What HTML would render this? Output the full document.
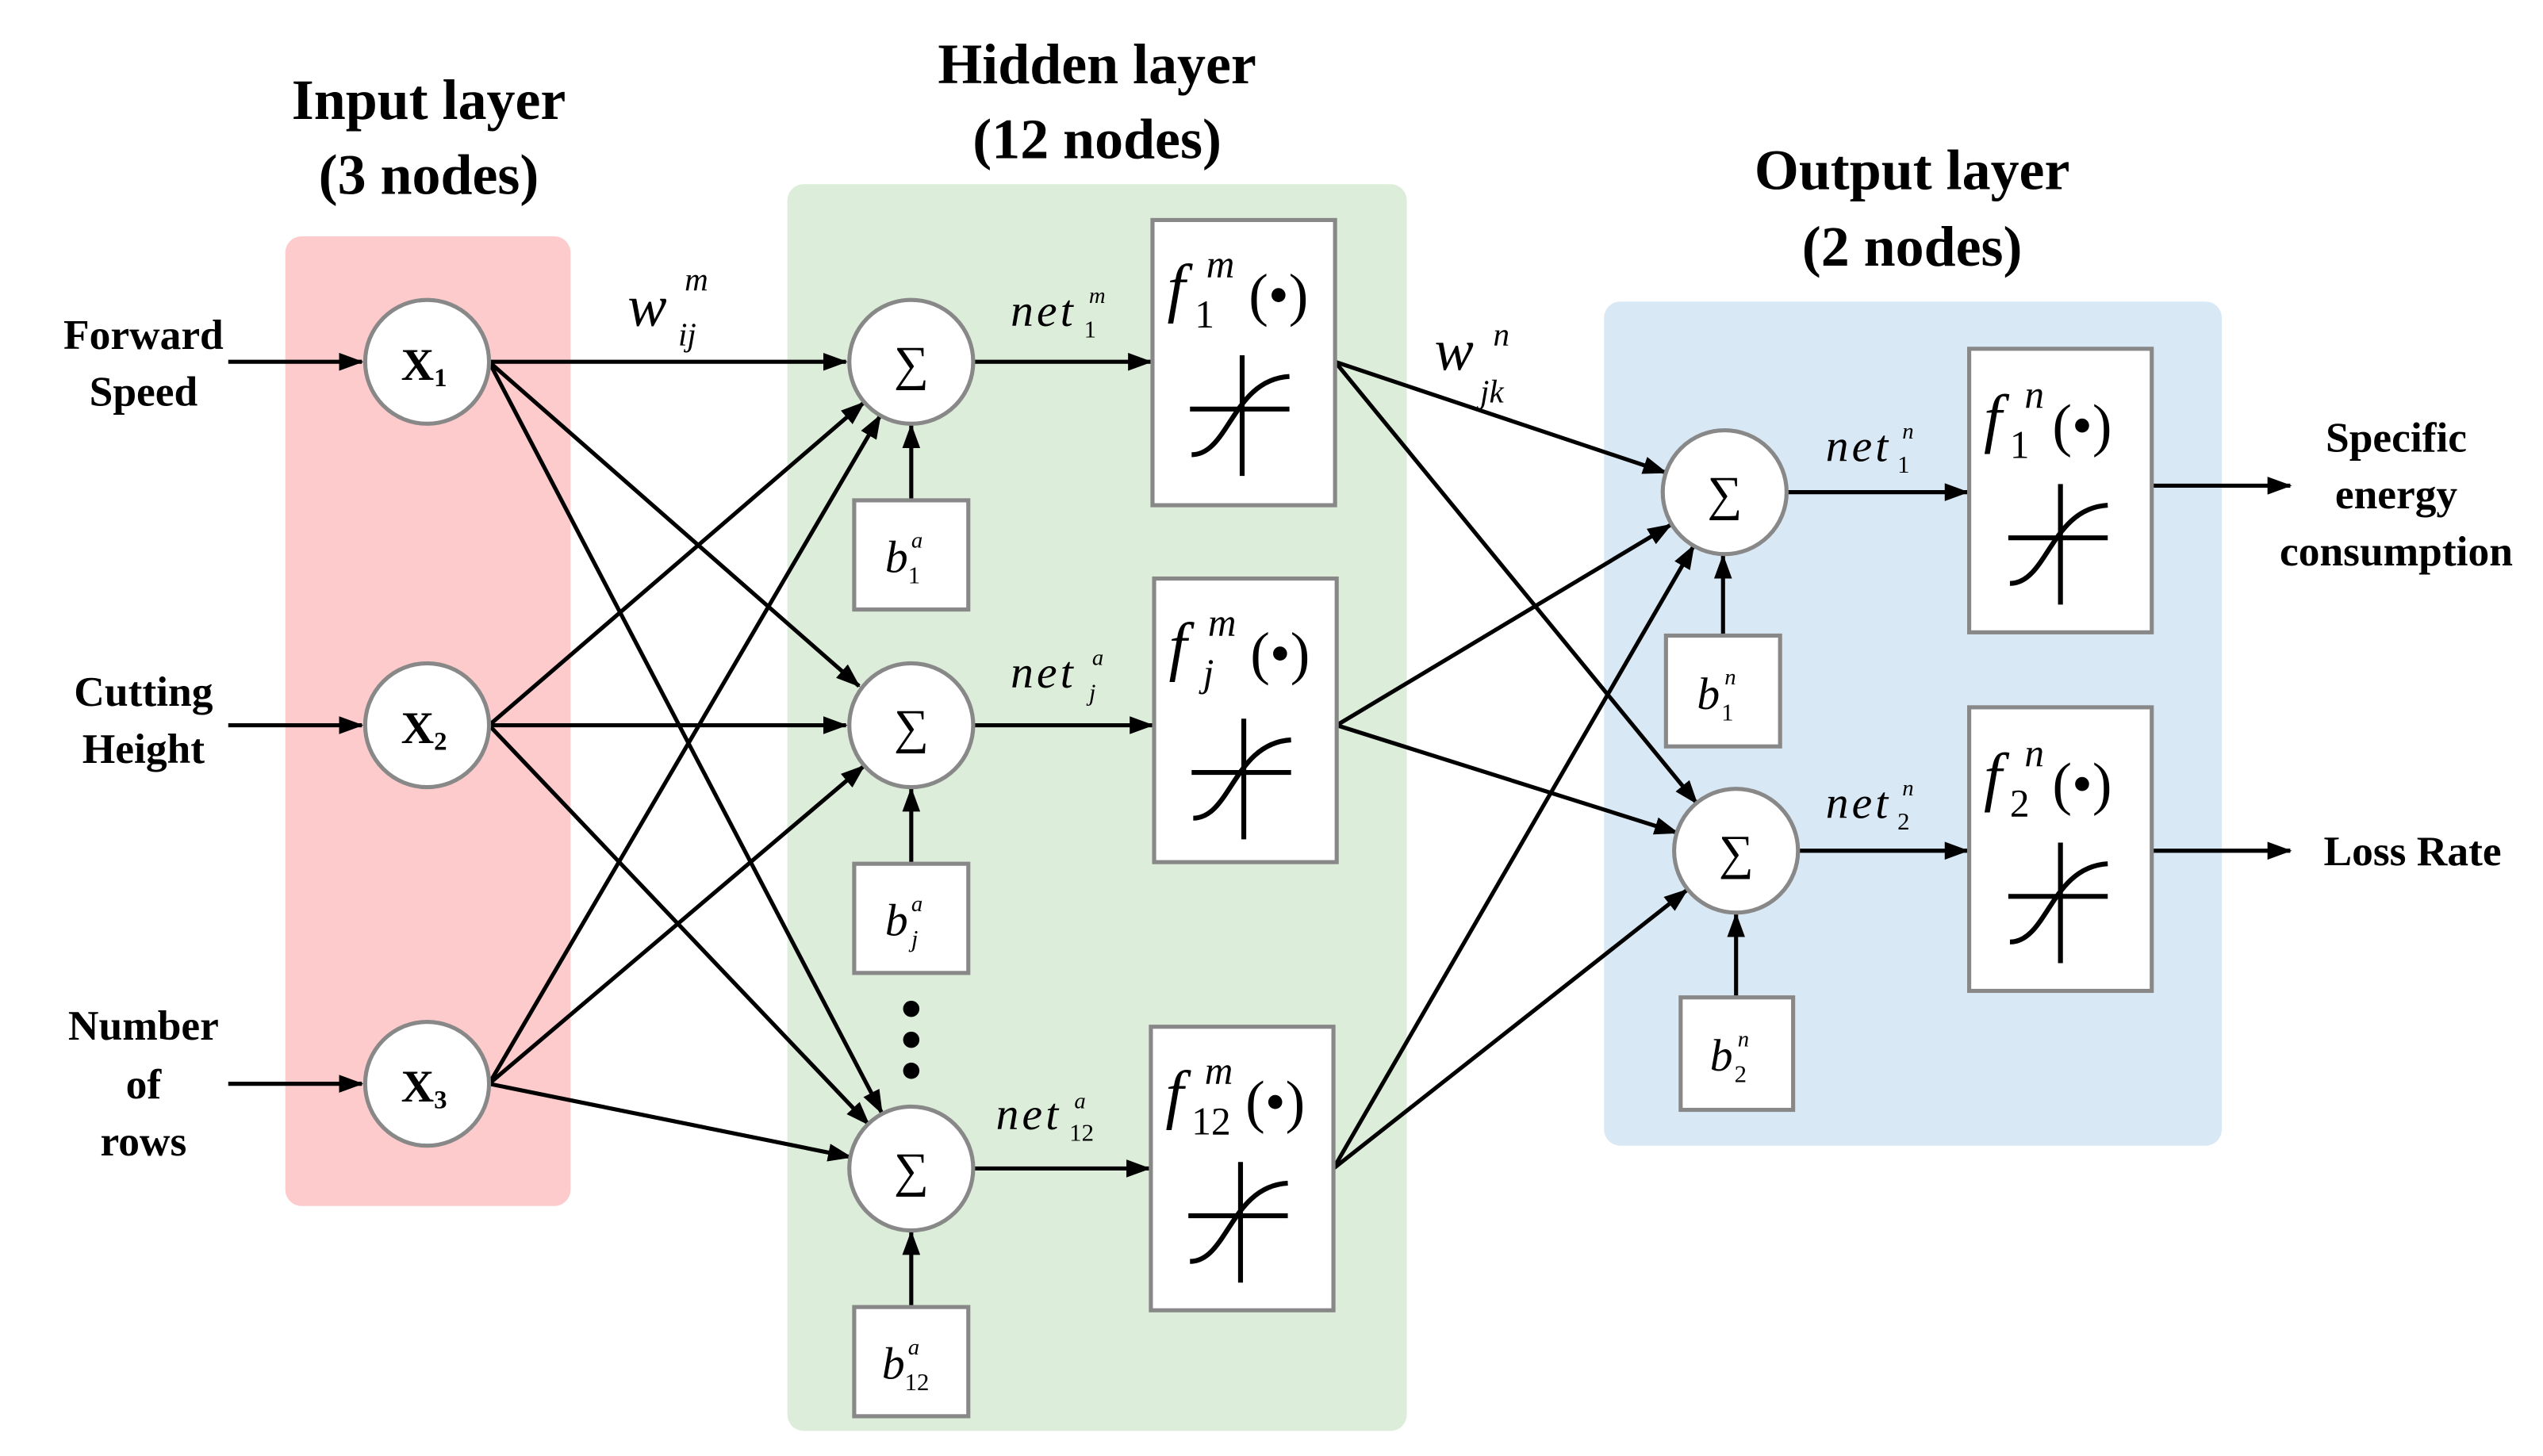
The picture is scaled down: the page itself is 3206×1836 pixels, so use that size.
<!DOCTYPE html>
<html><head><meta charset="utf-8"><style>
html,body{margin:0;padding:0;background:#fff}
svg{display:block}
</style></head><body>
<svg width="3206" height="1836" viewBox="0 0 1560 893.4" xmlns="http://www.w3.org/2000/svg" font-family="Liberation Serif, DejaVu Serif, serif">
<defs><marker id="a" markerUnits="userSpaceOnUse" markerWidth="15" markerHeight="11" refX="14" refY="5.5" orient="auto"><path d="M0,0 L15,5.5 L0,11 z" fill="#000"/></marker>
<g id="sig"><line x1="0" y1="-37" x2="0" y2="37" stroke="#000" stroke-width="3"/><line x1="-32" y1="-4" x2="29" y2="-4" stroke="#000" stroke-width="3"/><path d="M-31,24 C-8,24 -6,-22 29,-24" fill="none" stroke="#000" stroke-width="3"/></g>
</defs>
<rect x="175" y="145" width="175" height="595" rx="10" fill="#fdcbcb"/>
<rect x="483" y="113" width="380" height="765" rx="10" fill="#dcedd9"/>
<rect x="984" y="185" width="379" height="518" rx="10" fill="#d9e8f5"/>
<g font-family="Liberation Serif, DejaVu Serif, serif" font-weight="bold" font-size="35" text-anchor="middle">
<text x="263" y="73">Input layer</text><text x="263" y="119">(3 nodes)</text>
<text x="673" y="51">Hidden layer</text><text x="673" y="97">(12 nodes)</text>
<text x="1173" y="116">Output layer</text><text x="1173" y="163">(2 nodes)</text>
</g>
<g font-family="Liberation Serif, DejaVu Serif, serif" font-weight="bold" font-size="26" text-anchor="middle">
<text x="88" y="214">Forward</text><text x="88" y="249">Speed</text>
<text x="88" y="433">Cutting</text><text x="88" y="468">Height</text>
<text x="88" y="638">Number</text><text x="88" y="674">of</text><text x="88" y="709">rows</text>
<text x="1470" y="277">Specific</text><text x="1470" y="312">energy</text><text x="1470" y="347">consumption</text>
<text x="1480" y="531">Loss Rate</text>
</g>
<g stroke="#000" stroke-width="2.5" marker-end="url(#a)" fill="none">
<line x1="140" y1="222" x2="222" y2="222"/><line x1="140" y1="445" x2="222" y2="445"/><line x1="140" y1="665" x2="222" y2="665"/>
<line x1="300" y1="222" x2="519" y2="222"/><line x1="300" y1="222" x2="527" y2="421"/><line x1="300" y1="222" x2="541" y2="683"/>
<line x1="300" y1="445" x2="530" y2="247"/><line x1="300" y1="445" x2="519" y2="445"/><line x1="300" y1="445" x2="533" y2="690"/>
<line x1="300" y1="665" x2="540" y2="255"/><line x1="300" y1="665" x2="530" y2="470"/><line x1="300" y1="665" x2="522" y2="710"/>
<line x1="597" y1="222" x2="706" y2="222"/><line x1="597" y1="445" x2="707" y2="445"/><line x1="597" y1="717" x2="705" y2="717"/>
<line x1="559" y1="307" x2="559" y2="261"/><line x1="559" y1="530" x2="559" y2="484"/><line x1="559" y1="802" x2="559" y2="756"/>
<line x1="819" y1="222" x2="1022" y2="290"/><line x1="819" y1="222" x2="1041" y2="493"/>
<line x1="820" y1="445" x2="1025" y2="322"/><line x1="820" y1="445" x2="1029" y2="511"/>
<line x1="818" y1="717" x2="1039" y2="335"/><line x1="818" y1="717" x2="1035" y2="546"/>
<line x1="1096" y1="302" x2="1207" y2="302"/><line x1="1103" y1="522" x2="1207" y2="522"/>
<line x1="1057" y1="390" x2="1057" y2="341"/><line x1="1065" y1="612" x2="1065" y2="561"/>
<line x1="1320" y1="298" x2="1405" y2="298"/><line x1="1320" y1="522" x2="1405" y2="522"/>
</g>
<g fill="#fff" stroke="#888" stroke-width="2.5">
<circle cx="262" cy="222" r="38"/><circle cx="262" cy="445" r="38"/><circle cx="262" cy="665" r="38"/>
<circle cx="559" cy="222" r="38"/><circle cx="559" cy="445" r="38"/><circle cx="559" cy="717" r="38"/>
<circle cx="1058" cy="302" r="38"/><circle cx="1065" cy="522" r="38"/>
<rect x="524" y="307" width="70" height="67"/><rect x="524" y="530" width="70" height="67"/><rect x="524" y="802" width="70" height="67"/>
<rect x="1022" y="390" width="70" height="68"/><rect x="1031" y="612" width="69" height="69"/>
<rect x="707" y="135" width="112" height="175"/><rect x="708" y="355" width="112" height="174"/><rect x="706" y="630" width="112" height="174"/>
<rect x="1208" y="214" width="112" height="174"/><rect x="1208" y="434" width="112" height="174"/>
</g>
<use href="#sig" x="762" y="255"/><use href="#sig" x="763" y="478"/><use href="#sig" x="761" y="750"/>
<use href="#sig" x="1264" y="334"/><use href="#sig" x="1264" y="554"/>
<g font-family="Liberation Serif, DejaVu Serif, serif" font-weight="bold" font-size="28">
<text x="246" y="233">X<tspan font-size="16" dy="4">1</tspan></text>
<text x="246" y="456">X<tspan font-size="16" dy="4">2</tspan></text>
<text x="246" y="676">X<tspan font-size="16" dy="4">3</tspan></text>
</g>
<g font-size="30" text-anchor="middle">
<text x="559" y="233">∑</text><text x="559" y="456">∑</text><text x="559" y="728">∑</text>
<text x="1058" y="313">∑</text><text x="1065" y="533">∑</text>
</g>
<circle cx="559" cy="619" r="5"/><circle cx="559" cy="638" r="5"/><circle cx="559" cy="657" r="5"/>
<g font-style="italic" font-size="28">
<text x="543" y="351">b</text><text x="543" y="574">b</text><text x="541" y="846">b</text>
<text x="1041" y="435">b</text><text x="1049" y="657">b</text>
</g>
<g font-style="italic" font-size="14">
<text x="559" y="336">a</text><text x="559" y="559">a</text><text x="557" y="831">a</text>
<text x="1058" y="420">n</text><text x="1066" y="642">n</text>
</g>
<g font-size="15">
<text x="557" y="358">1</text><text x="559" y="581" font-style="italic">j</text><text x="555" y="853">12</text>
<text x="1056" y="442">1</text><text x="1064" y="664">2</text>
</g>
<text font-style="italic" x="385" y="200" font-size="36">w</text><text font-style="italic" x="420" y="178" font-size="20">m</text><text font-style="italic" x="416" y="212" font-size="20">ij</text>
<text font-style="italic" x="880" y="227" font-size="36">w</text><text font-style="italic" x="916" y="212" font-size="20">n</text><text font-style="italic" x="908" y="247" font-size="20">jk</text>
<g font-style="italic" font-size="28" letter-spacing="2">
<text x="620" y="200">net</text><text x="620" y="422">net</text><text x="611" y="693">net</text>
<text x="1120" y="283">net</text><text x="1120" y="502">net</text>
</g>
<g font-style="italic" font-size="14">
<text x="668" y="186">m</text><text x="670" y="408">a</text><text x="659" y="680">a</text>
<text x="1167" y="269">n</text><text x="1167" y="488">n</text>
</g>
<g font-size="15">
<text x="665" y="207">1</text><text x="668" y="430" font-style="italic">j</text><text x="656" y="700">12</text>
<text x="1164" y="290">1</text><text x="1164" y="509">2</text>
</g>
<g font-style="italic" font-size="40">
<text x="716" y="190">f</text><text x="717" y="410">f</text><text x="715" y="685">f</text>
<text x="1217" y="270">f</text><text x="1217" y="490">f</text>
</g>
<g font-style="italic" font-size="24">
<text x="740" y="170">m</text><text x="741" y="390">m</text><text x="739" y="665">m</text>
<text x="1242" y="250">n</text><text x="1242" y="470">n</text>
</g>
<g font-size="24">
<text x="733" y="201">1</text><text x="738" y="421" font-style="italic">j</text><text x="731" y="696">12</text>
<text x="1233" y="281">1</text><text x="1233" y="501">2</text>
</g>
<g font-size="36">
<text x="766" y="193">(•)</text><text x="767" y="413">(•)</text><text x="764" y="688">(•)</text>
<text x="1259" y="273">(•)</text><text x="1259" y="493">(•)</text>
</g>
</svg>
</body></html>
